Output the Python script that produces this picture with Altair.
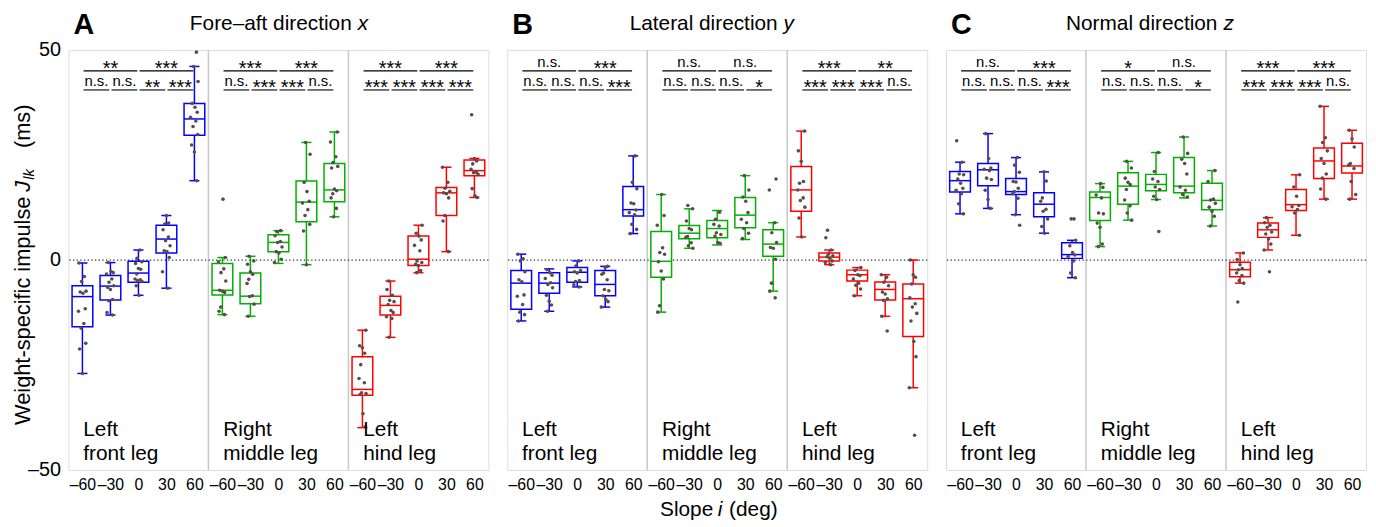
import altair as alt
import pandas as pd

# ---------------- data ----------------
LEGS = ["Left front leg", "Right middle leg", "Left hind leg"]
LEG_LINES = [["Left", "front leg"], ["Right", "middle leg"], ["Left", "hind leg"]]
SLOPE_LABELS = ["–60", "–30", "0", "30", "60"]
LEG_COLORS = ["#0000ff", "#00b000", "#ff0000"]
PANEL_LETTERS = ["A", "B", "C"]
PANEL_TITLES = [("Fore–aft direction", "x"), ("Lateral direction", "y"), ("Normal direction", "z")]

# Panel A: fore-aft impulse (ms); 15 boxes = 3 legs x 5 slopes
A_LO = [-27.0, -13.1, -8.4, -6.7, 18.9, -13.0, -13.4, -0.8, -1.1, 10.3, -39.9, -18.4, -3.0, 2.0, 14.9]
A_Q1 = [-15.9, -9.5, -5.3, 1.7, 29.7, -8.3, -10.4, 2.0, 9.1, 13.9, -32.2, -13.1, -1.3, 10.6, 20.1]
A_MED = [-8.7, -6.2, -3.1, 5.0, 33.6, -7.2, -8.6, 4.2, 13.8, 16.7, -30.8, -10.8, 0.2, 16.0, 21.3]
A_Q3 = [-6.1, -3.7, -0.3, 8.3, 37.3, -0.8, -3.1, 6.0, 18.8, 23.0, -23.0, -8.6, 5.7, 17.3, 23.8]
A_HI = [-0.7, -0.6, 2.4, 10.6, 46.1, 0.6, 0.9, 7.0, 28.0, 30.5, -16.7, -5.0, 8.3, 22.1, 24.2]
A_PTS = [
    [-0.7, -3.9, -5.1, -7.4, -7.6, -7.9, -11.6, -12.2, -15.1, -16.2, -19.8, -21.2, -27.0],
    [-0.6, -2.7, -3.0, -3.3, -4.5, -5.3, -6.1, -6.5, -7.0, -9.4, -9.7, -12.5, -13.1],
    [2.4, 0.4, -0.4, -0.8, -2.0, -2.2, -3.3, -4.5, -4.7, -4.9, -5.1, -6.1, -8.4],
    [10.6, 8.8, 8.6, 7.2, 5.5, 4.6, 3.4, 2.2, 2.0, 0.6, -2.8, -6.7],
    [49.5, 46.1, 42.5, 37.3, 36.4, 35.2, 34.0, 33.1, 31.8, 29.9, 27.4, 25.7, 18.9],
    [14.5, 0.6, -0.4, -2.1, -3.0, -5.0, -7.2, -7.4, -7.7, -11.2, -12.2, -13.0],
    [0.9, -0.2, -1.0, -2.8, -3.4, -4.6, -5.6, -8.5, -8.7, -10.5, -13.4],
    [7.0, 6.8, 5.8, 4.4, 4.2, 3.1, 2.0, 1.7, 0.2, -0.6],
    [28.0, 25.2, 18.5, 16.3, 14.0, 13.6, 12.0, 10.6, 8.5, 6.9, -1.1],
    [30.5, 28.1, 24.6, 23.2, 22.3, 21.9, 16.9, 16.5, 15.8, 14.8, 12.3, 10.3],
    [-16.7, -20.4, -20.9, -22.2, -24.9, -28.2, -29.2, -31.6, -31.8, -32.0, -36.6, -39.7],
    [-5.0, -7.0, -8.4, -9.6, -9.9, -10.6, -12.0, -12.5, -13.5, -13.9, -18.4],
    [8.3, 6.4, 5.7, 4.8, 3.5, 2.2, -0.2, -0.6, -1.0, -1.3, -2.5, -3.0],
    [22.1, 18.5, 17.1, 16.4, 16.0, 15.8, 14.8, 10.6, 9.3, 2.0],
    [34.6, 24.2, 23.6, 22.9, 21.6, 20.9, 20.8, 20.4, 17.0, 15.3, 14.9],
]

# Panel B: lateral impulse (ms)
B_LO = [-14.5, -12.2, -6.4, -11.2, 6.3, -12.4, 2.8, 3.6, 4.9, -7.4, 5.5, -1.1, -8.5, -13.4, -30.4]
B_Q1 = [-11.7, -7.9, -5.3, -8.5, 10.5, -4.1, 5.1, 5.3, 7.7, 0.9, 11.6, -0.2, -5.0, -9.5, -18.2]
B_MED = [-5.5, -5.5, -2.9, -5.8, 12.0, -0.3, 6.4, 7.5, 10.7, 3.8, 16.7, 0.7, -3.5, -7.0, -9.2]
B_Q3 = [-2.5, -3.0, -1.8, -2.5, 17.5, 6.8, 8.2, 9.4, 14.9, 7.2, 22.3, 1.7, -2.4, -5.2, -5.7]
B_HI = [1.4, -2.1, -0.2, -1.5, 24.8, 15.6, 12.2, 11.8, 20.1, 8.9, 30.7, 2.4, -1.8, -3.5, 0.0]
B_PTS = [
    [1.4, 0.3, -0.2, -2.8, -4.7, -5.2, -8.3, -8.6, -10.6, -12.4, -13.0, -14.5],
    [-2.3, -3.0, -3.6, -4.4, -5.4, -5.8, -6.6, -8.4, -9.8, -10.7, -12.2],
    [-0.2, -1.4, -2.5, -2.8, -3.1, -4.9, -5.1, -5.9, -6.4],
    [-1.7, -1.5, -3.1, -3.4, -4.7, -7.0, -7.3, -8.5, -9.4, -9.9, -11.2],
    [24.8, 18.5, 17.0, 13.6, 13.4, 11.9, 11.3, 10.8, 8.5, 7.3, 6.3],
    [15.6, 10.6, 8.3, 2.9, 1.8, 1.4, -0.4, -2.6, -4.5, -10.9, -12.4],
    [13.0, 12.2, 9.3, 7.5, 7.2, 5.6, 5.4, 4.1, 3.4, 2.8],
    [11.4, 9.7, 8.5, 8.1, 6.5, 6.1, 5.7, 4.2, 4.0],
    [20.1, 16.7, 15.0, 14.0, 11.3, 9.7, 8.9, 7.5, 6.4, 5.1],
    [19.3, 16.7, 8.9, 6.5, 4.2, 3.0, 2.8, 0.2, -5.5, -7.4, -9.0],
    [30.7, 26.0, 23.5, 18.7, 18.3, 16.7, 14.8, 14.2, 12.6, 10.0, 5.5],
    [7.1, 5.3, 2.4, 1.4, 1.0, 0.8, 0.4, -0.2, -0.6, -1.1],
    [-1.8, -2.5, -3.5, -3.7, -4.5, -5.5, -6.0, -6.9, -8.5],
    [-3.5, -4.1, -5.3, -6.1, -7.6, -8.1, -9.2, -9.6, -13.4, -16.9],
    [0.0, -3.5, -4.1, -5.7, -9.0, -10.4, -11.2, -12.7, -14.5, -19.4, -23.0, -30.4, -41.7],
]

# Panel C: normal impulse (ms)
C_LO = [11.0, 12.3, 10.8, 6.4, -4.2, 3.2, 9.5, 14.4, 14.8, 8.1, -5.5, 2.4, 5.9, 14.5, 14.5]
C_Q1 = [16.2, 17.7, 15.6, 10.3, 0.4, 9.4, 13.3, 16.5, 16.0, 12.0, -4.0, 5.4, 11.8, 19.4, 20.7]
C_MED = [18.9, 21.5, 16.3, 13.3, 1.3, 14.9, 17.6, 18.0, 17.6, 14.2, -2.3, 7.2, 13.2, 23.6, 22.4]
C_Q3 = [21.1, 23.0, 19.4, 16.0, 4.1, 16.2, 20.8, 20.4, 24.4, 18.3, -0.5, 8.8, 16.8, 26.7, 27.8]
C_HI = [23.3, 30.1, 24.4, 21.0, 4.7, 18.2, 23.5, 25.6, 29.3, 21.3, 1.7, 10.1, 20.3, 36.6, 30.9]
C_PTS = [
    [28.4, 23.3, 20.5, 20.3, 19.3, 18.3, 17.1, 16.6, 15.8, 13.4, 11.0],
    [30.1, 24.2, 21.9, 21.6, 21.3, 19.5, 19.2, 16.6, 14.4, 12.3],
    [24.4, 22.6, 20.9, 18.7, 18.6, 17.1, 16.3, 15.8, 14.7, 10.8, 8.3],
    [21.0, 18.8, 14.8, 14.0, 12.1, 11.6, 9.8, 8.0, 6.4],
    [9.8, 9.8, 4.7, 3.4, 1.8, 1.2, 0.9, -0.2, -3.1, -4.2],
    [18.2, 17.3, 15.5, 14.8, 11.2, 11.0, 8.8, 7.8, 3.8, 3.2],
    [23.5, 21.9, 19.5, 18.5, 18.0, 16.8, 14.3, 12.9, 11.2, 9.5],
    [25.6, 21.1, 19.3, 18.7, 17.4, 16.8, 15.2, 14.4, 6.8],
    [29.3, 25.4, 24.0, 23.0, 20.5, 17.4, 16.6, 15.6, 15.0],
    [21.3, 18.7, 14.5, 14.3, 13.5, 12.6, 11.6, 10.4, 8.1],
    [1.7, 0.1, -1.1, -2.0, -2.3, -3.1, -3.7, -4.9, -5.5, -10.0],
    [10.1, 8.9, 8.3, 7.8, 6.7, 6.2, 5.0, 3.8, 2.4, -2.8],
    [20.3, 17.4, 15.2, 13.0, 12.7, 12.0, 11.2, 5.9],
    [36.6, 29.1, 28.0, 26.0, 24.2, 23.0, 20.5, 19.5, 16.9, 14.5],
    [30.9, 28.9, 26.9, 23.0, 22.6, 21.8, 18.7, 15.6, 14.5],
]

# significance labels: top row (per leg: -60..0, 0..60), bottom row (adjacent slopes)
A_SIG_TOP = ["**", "***", "***", "***", "***", "***"]
A_SIG_BOT = ["n.s.", "n.s.", "**", "***", "n.s.", "***", "***", "n.s.", "***", "***", "***", "***"]
B_SIG_TOP = ["n.s.", "***", "n.s.", "n.s.", "***", "**"]
B_SIG_BOT = ["n.s.", "n.s.", "n.s.", "***", "n.s.", "n.s.", "n.s.", "*", "***", "***", "***", "n.s."]
C_SIG_TOP = ["n.s.", "***", "*", "n.s.", "***", "***"]
C_SIG_BOT = ["n.s.", "n.s.", "n.s.", "***", "n.s.", "n.s.", "n.s.", "*", "***", "***", "***", "n.s."]

PANEL_DATA = [
    (A_LO, A_Q1, A_MED, A_Q3, A_HI, A_PTS, A_SIG_TOP, A_SIG_BOT),
    (B_LO, B_Q1, B_MED, B_Q3, B_HI, B_PTS, B_SIG_TOP, B_SIG_BOT),
    (C_LO, C_Q1, C_MED, C_Q3, C_HI, C_PTS, C_SIG_TOP, C_SIG_BOT),
]

# ---------------- style / layout ----------------
FONT = "Liberation Sans"
W = 424
H = 424
JITTER = [-0.12, 0.07, -0.03, 0.13, -0.08, 0.02, 0.10, -0.14, 0.05, -0.05, 0.12, -0.10, 0.0, 0.08, -0.06]
POINT_COLOR = "#5b4b4b"
SIG_TOP_Y = 45.05
SIG_BOT_Y = 40.5
LEG_LABEL_Y = [-42.0, -47.5]
TITLE_SPLIT = [(286, 292), (273, 279), (274, 280)]

XS = alt.Scale(domain=[0, 15], nice=False, zero=False)
YS = alt.Scale(domain=[-50, 50], nice=False, zero=False)
label_js = "[" + ",".join("'" + s + "'" for s in SLOPE_LABELS) + "]"
XAX = alt.Axis(values=[i + 0.5 for i in range(15)],
               labelExpr=label_js + "[floor(datum.value) % 5]",
               ticks=False, domain=False, grid=False, labelFontSize=16, labelPadding=7,
               labelOverlap=False, labelFlush=False, title=None, labelColor="black", labelFont=FONT)
YAX = alt.Axis(values=[-50, 0, 50],
               labelExpr="datum.value < 0 ? '–' + format(-datum.value, 'd') : format(datum.value, 'd')",
               ticks=False, domain=False, grid=False, labelFontSize=20, labelPadding=8,
               title=None, labelColor="black", labelFont=FONT)


def X(f):
    return alt.X(f + ":Q", scale=XS, axis=XAX)


def Y(f, show):
    if show:
        return alt.Y(f + ":Q", scale=YS, axis=YAX)
    return alt.Y(f + ":Q", scale=YS, axis=None)


def make_panel(p):
    lo, q1, med, q3, hi, pts, sig_top, sig_bot = PANEL_DATA[p]
    show = p == 0
    box = pd.DataFrame({"idx": list(range(15)), "leg": [LEGS[i // 5] for i in range(15)],
                        "lo": lo, "q1": q1, "med": med, "q3": q3, "hi": hi})
    color = alt.Color("leg:N", scale=alt.Scale(domain=LEGS, range=LEG_COLORS), legend=None)
    stroke = alt.Stroke("leg:N", scale=alt.Scale(domain=LEGS, range=LEG_COLORS), legend=None)
    base = alt.Chart(box).transform_calculate(
        pos="datum.idx + 0.5", xl="datum.idx + 0.13", xr="datum.idx + 0.87",
        cl="datum.idx + 0.32", cr="datum.idx + 0.68")

    layers = []
    div = alt.Chart(pd.DataFrame({"d": [5, 10]})).mark_rule(color="#c8c8c8", strokeWidth=1.5).encode(x=X("d"))
    zero = alt.Chart(pd.DataFrame({"z": [0]})).mark_rule(color="#333333", strokeWidth=1.2,
                                                          strokeDash=[1.3, 2.4]).encode(y=Y("z", show))
    layers += [div, zero]
    layers.append(base.mark_rule(strokeWidth=1.5).encode(x=X("pos"), y=Y("lo", show), y2="hi:Q", color=color))
    layers.append(base.mark_rule(strokeWidth=1.5).encode(x=X("cl"), x2="cr:Q", y=Y("lo", show), color=color))
    layers.append(base.mark_rule(strokeWidth=1.5).encode(x=X("cl"), x2="cr:Q", y=Y("hi", show), color=color))
    layers.append(base.mark_rect(fill="white", strokeWidth=1.5).encode(
        x=X("xl"), x2="xr:Q", y=Y("q1", show), y2="q3:Q", stroke=stroke))
    layers.append(base.mark_rule(strokeWidth=1.5).encode(x=X("xl"), x2="xr:Q", y=Y("med", show), color=color))

    prow = []
    for i, vals in enumerate(pts):
        for k, v in enumerate(vals):
            prow.append({"idx": i, "v": v, "jit": JITTER[(k + 4 * i) % len(JITTER)]})
    pdf = pd.DataFrame(prow)
    layers.append(alt.Chart(pdf).transform_calculate(px="datum.idx + 0.5 + datum.jit").mark_circle(
        size=13, color=POINT_COLOR, opacity=1).encode(x=X("px"), y=Y("v", show)))

    # significance
    srow = []
    for l in range(3):
        for j, (a, b) in enumerate([(0, 2), (2, 4)]):
            x1 = l * 5 + a + 0.54
            x2 = l * 5 + b + 0.46
            srow.append({"x1": x1, "x2": x2, "xm": (x1 + x2) / 2, "y": SIG_TOP_Y, "t": sig_top[l * 2 + j]})
        for j in range(4):
            x1 = l * 5 + j + 0.54
            x2 = l * 5 + j + 1 + 0.46
            srow.append({"x1": x1, "x2": x2, "xm": (x1 + x2) / 2, "y": SIG_BOT_Y, "t": sig_bot[l * 4 + j]})
    sdf = pd.DataFrame(srow)
    sdf["star"] = sdf["t"].str.startswith("*")
    layers.append(alt.Chart(sdf).mark_rule(color="black", strokeWidth=1.1).encode(
        x=X("x1"), x2="x2:Q", y=Y("y", show)))
    layers.append(alt.Chart(sdf).transform_filter("!datum.star").mark_text(
        fontSize=15, baseline="alphabetic", dy=-4, font=FONT, color="black").encode(
        x=X("xm"), y=Y("y", show), text="t:N"))
    layers.append(alt.Chart(sdf).transform_filter("datum.star").mark_text(
        fontSize=20, baseline="alphabetic", dy=4, font=FONT, color="black").encode(
        x=X("xm"), y=Y("y", show), text="t:N"))

    # leg labels
    lrow = []
    for l in range(3):
        for k in range(2):
            lrow.append({"x": l * 5 + 0.53, "y": LEG_LABEL_Y[k], "t": LEG_LINES[l][k]})
    layers.append(alt.Chart(pd.DataFrame(lrow)).mark_text(
        align="left", baseline="alphabetic", fontSize=21, font=FONT, color="black").encode(
        x=X("x"), y=Y("y", show), text="t:N"))

    # panel letter + title
    layers.append(alt.Chart(pd.DataFrame({"t": [PANEL_LETTERS[p]]})).mark_text(
        align="left", baseline="alphabetic", fontSize=29, fontWeight="bold", font=FONT, color="black").encode(
        x=alt.value(5), y=alt.value(-16), text="t:N"))
    t_norm, t_it = PANEL_TITLES[p]
    sx1, sx2 = TITLE_SPLIT[p]
    layers.append(alt.Chart(pd.DataFrame({"t": [t_norm]})).mark_text(
        align="right", baseline="alphabetic", fontSize=21, font=FONT, color="black").encode(
        x=alt.value(sx1), y=alt.value(-20), text="t:N"))
    layers.append(alt.Chart(pd.DataFrame({"t": [t_it]})).mark_text(
        align="left", baseline="alphabetic", fontSize=21, fontStyle="italic", font=FONT, color="black").encode(
        x=alt.value(sx2), y=alt.value(-20), text="t:N"))

    if p == 0:
        # y-axis title with italic J_lk
        parts = [("Weight-specific impulse", "normal", 22, -39, 378.5),
                 ("J", "italic", 22, -39, 143),
                 ("lk", "italic", 15, -35, 131),
                 ("(ms)", "normal", 22, -39, 99)]
        for txt, style, fs, xx, yy in parts:
            layers.append(alt.Chart(pd.DataFrame({"t": [txt]})).mark_text(
                align="left", baseline="alphabetic", angle=270, fontSize=fs, fontStyle=style,
                font=FONT, color="black").encode(x=alt.value(xx), y=alt.value(yy), text="t:N"))
    if p == 1:
        parts = [("Slope", "normal", "right", 208),
                 ("i", "italic", "left", 212.5),
                 ("(deg)", "normal", "left", 224)]
        for txt, style, al, xx in parts:
            layers.append(alt.Chart(pd.DataFrame({"t": [txt]})).mark_text(
                align=al, baseline="alphabetic", fontSize=21, fontStyle=style,
                font=FONT, color="black").encode(x=alt.value(xx), y=alt.value(470), text="t:N"))

    return alt.layer(*layers).properties(width=W, height=H)


chart = alt.hconcat(make_panel(0), make_panel(1), make_panel(2), spacing=15).properties(
    padding={"left": 3, "top": 0, "right": 0, "bottom": 0}
).configure_view(stroke="#333333", strokeWidth=1.4).configure(font=FONT)

chart.save("out.html", embed_options={"renderer": "svg", "actions": False})
